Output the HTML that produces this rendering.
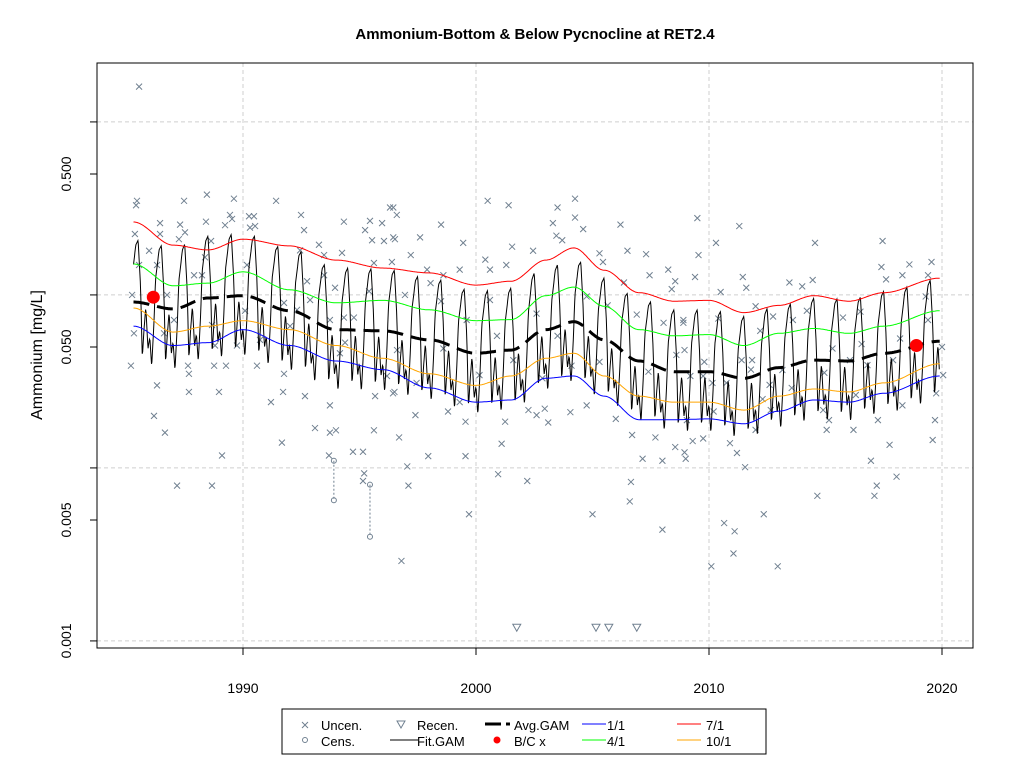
<!DOCTYPE html>
<html><head><meta charset="utf-8"><style>
html,body{margin:0;padding:0;background:#fff;width:1024px;height:768px;overflow:hidden}
svg{display:block;font-family:"Liberation Sans",Arial,sans-serif}
</style></head><body>
<svg id="chart" width="1024" height="768" viewBox="0 0 1024 768">
<text x="535" y="39" text-anchor="middle" font-size="15" font-weight="bold">Ammonium-Bottom &amp; Below Pycnocline at RET2.4</text>
<g id="grid"></g>
<g id="series"></g>
<rect x="97" y="63" width="876" height="585" fill="none" stroke="#000" stroke-width="1"/>
<g id="axes"></g>
<text transform="translate(42,355) rotate(-90)" text-anchor="middle" font-size="16">Ammonium [mg/L]</text>
<g>
<rect x="282" y="709" width="484" height="45" fill="#fff" stroke="#000"/>
<g><path d="M302,722l6,6M308,722l-6,6" stroke="#708090" stroke-width="1"/><text x="321" y="730" font-size="13">Uncen.</text></g>
<g><circle cx="305" cy="740" r="2.5" fill="none" stroke="#708090"/><text x="321" y="746" font-size="13">Cens.</text></g>
<g><path d="M397,721h8l-4,7z" fill="none" stroke="#708090"/><text x="417" y="730" font-size="13">Recen.</text></g>
<g><path d="M390,740h28" stroke="#000"/><text x="417" y="746" font-size="13">Fit.GAM</text></g>
<g><path d="M485,724h16M506,724h4" stroke="#000" stroke-width="3"/><text x="514" y="730" font-size="13">Avg.GAM</text></g>
<g><circle cx="497" cy="740" r="3.5" fill="#f00"/><text x="514" y="746" font-size="13">B/C x</text></g>
<g><path d="M582,724h24" stroke="#0000ff"/><text x="607" y="730" font-size="13">1/1</text></g>
<g><path d="M582,740h24" stroke="#00ff00"/><text x="607" y="746" font-size="13">4/1</text></g>
<g><path d="M677,724h24" stroke="#ff0000"/><text x="706" y="730" font-size="13">7/1</text></g>
<g><path d="M677,740h24" stroke="#ffa500"/><text x="706" y="746" font-size="13">10/1</text></g>
</g>
</svg>
<script>
const knotYears=[1985.3,1987,1988.5,1990,1992,1994,1996,1998,2000,2001.5,2003,2004.2,2005.5,2007,2008.5,2010,2011.5,2013,2014.5,2016,2017.5,2019.9];
const avgGam=[0.091,0.083,0.096,0.099,0.081,0.063,0.062,0.055,0.046,0.048,0.063,0.070,0.055,0.0415,0.036,0.036,0.033,0.038,0.042,0.0415,0.046,0.054];
const janGam=[0.066,0.051,0.053,0.063,0.051,0.0415,0.037,0.029,0.024,0.0247,0.033,0.034,0.026,0.019,0.019,0.0192,0.018,0.0213,0.0247,0.024,0.027,0.034];
const aprGam=[0.151,0.113,0.117,0.136,0.107,0.090,0.093,0.082,0.071,0.072,0.099,0.111,0.086,0.063,0.058,0.059,0.051,0.060,0.064,0.060,0.066,0.081];
const julGam=[0.264,0.194,0.182,0.210,0.192,0.159,0.143,0.134,0.114,0.120,0.159,0.187,0.139,0.103,0.092,0.093,0.079,0.087,0.099,0.092,0.103,0.125];
const octGam=[0.084,0.061,0.066,0.071,0.063,0.051,0.043,0.035,0.030,0.034,0.043,0.046,0.034,0.026,0.024,0.024,0.0216,0.026,0.0286,0.0275,0.031,0.040];
const fitPhase=[0,0.08,0.17,0.25,0.4,0.5,0.6,0.68,0.75,0.83,0.92,1];
const fitShape=[-0.19,-0.36,-0.12,0.16,0.33,0.36,0.1,-0.32,-0.15,-0.02,-0.26,-0.19];
const xTicks=[1990,2000,2010,2020];
const yTicks=[0.001,0.005,0.01,0.05,0.1,0.5,1];
const yTickLabels=[[0.001,"0.001"],[0.005,"0.005"],[0.05,"0.050"],[0.5,"0.500"]];
const yGrid=[0.001,0.01,0.1,1];
const bcx=[[1986.15,0.097],[2018.9,0.051]];
const recen=[[2001.75,0.0012],[2005.15,0.0012],[2005.7,0.0012],[2006.9,0.0012]];
const cens=[[1993.9,0.011,0.0065],[1995.45,0.008,0.0040]];
const uncen=[[1985.54,1.6],[1985.45,0.35],[1985.41,0.33],[1987.47,0.35],[1988.45,0.38],[1989.61,0.36],[1991.42,0.35],[1989.44,0.29],[1990.26,0.285],[1990.47,0.285],[1989.53,0.275],[1986.44,0.26],[1987.3,0.255],[1988.41,0.265],[1989.23,0.253],[1990.3,0.245],[1990.52,0.25],[1992.49,0.29],[1992.62,0.237],[1994.33,0.265],[1995.45,0.268],[1995.97,0.26],[1996.31,0.32],[1995.24,0.237],[1985.36,0.225],[1986.44,0.225],[1987.25,0.21],[1987.51,0.23],[1988.63,0.205],[1995.54,0.207],[1996.05,0.205],[1996.52,0.21],[1985.97,0.18],[1988.37,0.165],[1992.45,0.181],[1993.26,0.195],[1993.48,0.17],[1994.25,0.175],[1995.62,0.153],[1996.39,0.155],[1985.54,0.149],[1986.31,0.149],[1987.9,0.13],[1988.24,0.13],[1990.17,0.149],[1992.88,0.0935],[1992.75,0.12],[1993.48,0.13],[1993.95,0.11],[1995.41,0.105],[1985.24,0.1],[1986.74,0.1],[1990.09,0.081],[1991.76,0.09],[1992.32,0.082],[1987.04,0.0716],[1993.73,0.0716],[1994.33,0.074],[1994.76,0.074],[1985.32,0.06],[1986.61,0.06],[1988.67,0.067],[1990.73,0.055],[1992.02,0.066],[1988.8,0.051],[1989.74,0.051],[1994.38,0.053],[1994.16,0.046],[1996.61,0.048],[1985.19,0.039],[1987.64,0.039],[1988.76,0.039],[1989.27,0.039],[1990.6,0.039],[1987.68,0.035],[1991.76,0.035],[1996.18,0.034],[1986.31,0.030],[1987.68,0.0275],[1988.97,0.0275],[1991.72,0.0275],[1991.2,0.024],[1992.66,0.026],[1993.73,0.023],[1995.67,0.026],[1996.44,0.027],[1986.18,0.02],[1986.65,0.016],[1991.67,0.014],[1993.09,0.017],[1993.73,0.016],[1993.99,0.0165],[1995.62,0.0165],[1989.1,0.0118],[1993.69,0.0118],[1994.72,0.0124],[1995.15,0.0124],[1995.2,0.0093],[1995.15,0.0084],[1987.17,0.0079],[1988.67,0.0079],
[1996.45,0.32],[1996.6,0.29],[2000.5,0.35],[2001.4,0.33],[1998.5,0.255],[1997.6,0.215],[1996.45,0.215],[1999.45,0.2],[1997.2,0.17],[2001.55,0.19],[2002.45,0.18],[2003.3,0.26],[2003.5,0.32],[2004.25,0.36],[2004.25,0.28],[2004.6,0.24],[2003.45,0.22],[2003.7,0.207],[2006.2,0.255],[2006.5,0.18],[2007.3,0.172],[2005.3,0.174],[2005.45,0.155],[2000.4,0.16],[2000.6,0.14],[2001.3,0.149],[1999.3,0.14],[1997.9,0.14],[1998.6,0.13],[1998.05,0.117],[2007.45,0.13],[2008.25,0.14],[2008.55,0.12],[2008.4,0.108],[2006.35,0.118],[2004.75,0.098],[1996.95,0.1],[2000.6,0.0935],[1998.5,0.092],[1999.6,0.0716],[2000.9,0.058],[2003.5,0.058],[2002.6,0.078],[2005.65,0.087],[2006.9,0.077],[2008.9,0.069],[2008.05,0.069],[1998.6,0.049],[2001.6,0.042],[2002.85,0.033],[2004.1,0.039],[2005.3,0.041],[2007.4,0.036],[2008.6,0.045],[1996.5,0.0275],[1997.45,0.031],[1999.3,0.024],[2000.15,0.0344],[2002.25,0.0216],[2002.6,0.0202],[2002.95,0.022],[2004.05,0.021],[2004.75,0.023],[2006.0,0.0192],[2006.7,0.0155],[2007.7,0.015],[1997.4,0.0202],[1998.8,0.0212],[1999.55,0.0185],[2001.25,0.0185],[2003.1,0.0183],[1996.7,0.015],[1997.95,0.0117],[1999.55,0.0117],[2001.1,0.0138],[2007.15,0.0113],[2008.0,0.011],[2008.55,0.0132],[2009.0,0.0113],[1997.05,0.0102],[2000.95,0.0092],[2002.2,0.0084],[2006.65,0.0083],[2006.6,0.0064],[1997.1,0.0079],[1999.7,0.0054],[2005.0,0.0054],[2008.0,0.0044],[1996.8,0.0029],
[2009.5,0.278],[2011.3,0.25],[2010.3,0.2],[2014.55,0.2],[2017.45,0.205],[2009.55,0.17],[2009.4,0.127],[2011.45,0.127],[2011.6,0.11],[2010.5,0.104],[2013.45,0.118],[2014.0,0.112],[2014.45,0.122],[2017.4,0.145],[2017.6,0.123],[2018.3,0.13],[2018.6,0.15],[2019.55,0.155],[2019.4,0.13],[2019.3,0.098],[2012.0,0.086],[2012.75,0.075],[2013.6,0.0716],[2008.9,0.0716],[2010.4,0.073],[2012.2,0.062],[2014.2,0.081],[2015.75,0.074],[2016.5,0.08],[2019.4,0.0716],[2018.2,0.056],[2015.3,0.049],[2016.55,0.052],[2008.95,0.048],[2009.8,0.041],[2011.4,0.042],[2011.85,0.042],[2016.05,0.042],[2017.9,0.042],[2009.75,0.034],[2013.15,0.0368],[2016.8,0.0393],[2009.2,0.034],[2010.15,0.031],[2011.8,0.037],[2014.95,0.0355],[2020.0,0.05],[2020.05,0.0344],[2010.75,0.031],[2012.6,0.0302],[2013.55,0.029],[2016.3,0.0264],[2012.3,0.025],[2012.65,0.0216],[2014.9,0.0216],[2018.3,0.023],[2019.75,0.027],[2009.05,0.0189],[2010.2,0.0212],[2015.15,0.0189],[2017.25,0.0189],[2012.0,0.0166],[2015.05,0.0166],[2016.2,0.0166],[2019.7,0.0189],[2009.3,0.0143],[2009.75,0.0148],[2010.9,0.0139],[2011.2,0.0122],[2017.75,0.0136],[2019.6,0.0145],[2008.95,0.0123],[2011.55,0.0101],[2016.95,0.011],[2018.05,0.0089],[2017.2,0.0079],[2014.65,0.0069],[2017.1,0.0069],[2012.35,0.0054],[2010.65,0.0048],[2011.1,0.0043],[2011.05,0.0032],[2010.1,0.0027],[2012.95,0.0027]];

const NS='http://www.w3.org/2000/svg';
const X0=97,X1=973,Y0=63,Y1=648;
function xs(yr){return 243+(yr-1990)*23.3;}
function ys(v){return 347-173*Math.log10(v/0.05);}
function mk(tag,attrs,parent){const e=document.createElementNS(NS,tag);for(const k in attrs)e.setAttribute(k,attrs[k]);parent.appendChild(e);return e;}
const grid=document.getElementById('grid'),series=document.getElementById('series'),axes=document.getElementById('axes');

xTicks.forEach(t=>{
  const g=mk('line',{x1:xs(t),x2:xs(t),y1:Y0,y2:Y1,stroke:'#cfcfcf','stroke-dasharray':'4 3'},grid);
  
  
  const tk=mk('line',{x1:xs(t),x2:xs(t),y1:Y1,y2:Y1+7,stroke:'#000'},axes);
  
  
  const lb=mk('text',{x:xs(t),y:693,'text-anchor':'middle','font-size':14},axes);
  lb.textContent=t;
  
  
});
yGrid.forEach(v=>{
  const g=mk('line',{x1:X0,x2:X1,y1:ys(v),y2:ys(v),stroke:'#cfcfcf','stroke-dasharray':'4 3'},grid);
  
  
});
yTicks.forEach(v=>{
  const tk=mk('line',{x1:X0-7,x2:X0,y1:ys(v),y2:ys(v),stroke:'#000'},axes);
  
  
});
yTickLabels.forEach(([v,s])=>{
  const lb=mk('text',{transform:`translate(71,${ys(v)}) rotate(-90)`,'text-anchor':'middle','font-size':14},axes);
  lb.textContent=s;
  
  
});

uncen.forEach(([yr,v])=>{
  const x=xs(yr),y=ys(v);
  const p=mk('path',{d:`M${x-3},${y-3}l6,6M${x+3},${y-3}l-6,6`,stroke:'#708090','stroke-width':1},series);
  
  
});
cens.forEach(([yr,hi,lo])=>{
  const x=xs(yr);
  const l=mk('line',{x1:x,x2:x,y1:ys(hi),y2:ys(lo),stroke:'#708090','stroke-dasharray':'2 2'},series);
  
  
  [hi,lo].forEach(v=>{
    const c=mk('circle',{cx:x,cy:ys(v),r:2.5,fill:'none',stroke:'#708090'},series);
    
    
  });
});
recen.forEach(([yr,v])=>{
  const x=xs(yr),y=ys(v);
  const p=mk('path',{d:`M${x-4},${y-3}h8l-4,7z`,fill:'none',stroke:'#708090'},series);
  
  
});

function interpLog(arr,yr){
  if(yr<=knotYears[0])return Math.log10(arr[0]);
  for(let i=0;i<knotYears.length-1;i++){
    if(yr<=knotYears[i+1]){
      const t=(yr-knotYears[i])/(knotYears[i+1]-knotYears[i]);
      const s=t*t*(3-2*t);
      return Math.log10(arr[i])*(1-s)+Math.log10(arr[i+1])*s;
    }
  }
  return Math.log10(arr[arr.length-1]);
}
function curve(arr,step){
  let d='';
  for(let yr=knotYears[0];yr<=knotYears[knotYears.length-1]+1e-9;yr+=step){
    d+=(d?'L':'M')+xs(yr).toFixed(1)+','+ys(Math.pow(10,interpLog(arr,yr))).toFixed(1);
  }
  return d;
}
(function(){
  let d='';
  for(let yr=knotYears[0];yr<=knotYears[knotYears.length-1];yr+=1/48){
    const ph=yr-Math.floor(yr);
    let sh=0;
    for(let i=0;i<fitPhase.length-1;i++){
      if(ph>=fitPhase[i]&&ph<=fitPhase[i+1]){const t=(ph-fitPhase[i])/(fitPhase[i+1]-fitPhase[i]);sh=fitShape[i]*(1-t)+fitShape[i+1]*t;break;}
    }
    const v=Math.pow(10,interpLog(avgGam,yr)+sh);
    d+=(d?'L':'M')+xs(yr).toFixed(1)+','+ys(v).toFixed(1);
  }
  const p=mk('path',{d:d,fill:'none',stroke:'#000','stroke-width':1},series);
  
  
})();
[[janGam,'#0000ff','jan-gam-line'],[aprGam,'#00ff00','apr-gam-line'],[julGam,'#ff0000','jul-gam-line'],[octGam,'#ffa500','oct-gam-line']].forEach(([arr,col,name])=>{
  const p=mk('path',{d:curve(arr,0.05),fill:'none',stroke:col,'stroke-width':1},series);
  
  
});
const avgPath=mk('path',{d:curve(avgGam,0.05),fill:'none',stroke:'#000','stroke-width':3,'stroke-dasharray':'16 8'},series);


bcx.forEach(([yr,v])=>{
  const c=mk('circle',{cx:xs(yr),cy:ys(v),r:6.5,fill:'#ff0000'},series);
  
  
});
</script>
</body></html>
